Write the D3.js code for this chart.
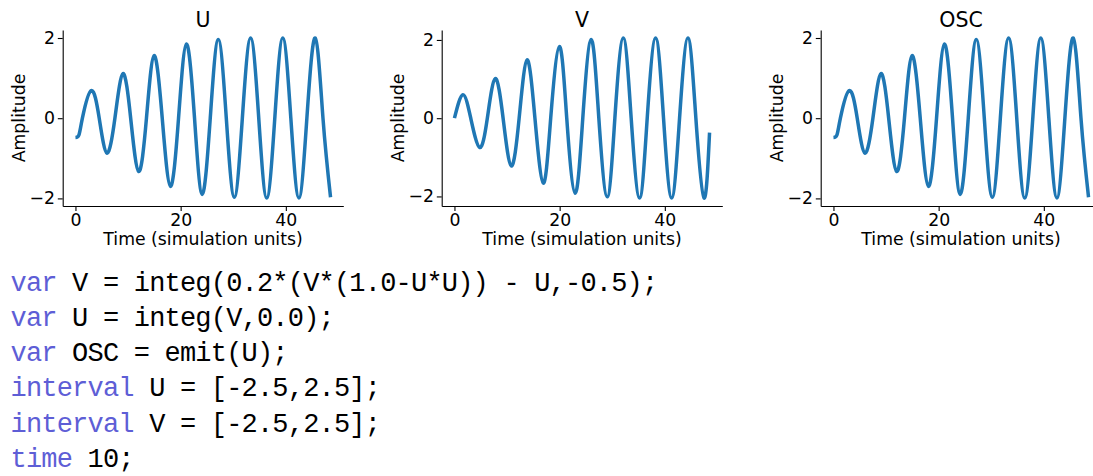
<!DOCTYPE html>
<html>
<head>
<meta charset="utf-8">
<script src="https://cdn.jsdelivr.net/npm/d3@7"></script>
<style>
  body { margin: 0; background: #fff; }
  svg text { font-family: "DejaVu Sans", sans-serif; fill: #000; }
  .code text { font-family: "Liberation Mono", monospace; }
</style>
</head>
<body>
<svg id="chart" width="1093" height="476"></svg>
<script>
// values (peaks, troughs, zero crossings)
var uTime = [0, 0.65, 1.32, 3.0, 4.52, 5.98, 7.5, 9.03, 10.5, 12.02, 13.5, 14.95, 16.5,
  18.06, 19.6, 21.1, 22.64, 24.1, 25.63, 27.15, 28.68, 30.2, 31.73, 33.3, 34.85,
  36.37, 37.9, 39.42, 40.95, 42.48, 44.0, 45.59, 47.06, 48.5];
var uValues = [-0.48, -0.42, 0, 0.69, 0, -0.87, 0, 1.11, 0, -1.33, 0, 1.56, 0,
  -1.70, 0, 1.85, 0, -1.90, 0, 1.96, 0, -1.97, 0, 2.0, 0,
  -1.99, 0, 2.0, 0, -1.99, 0, 2.0, 0, -1.97];

var vTime = [0, 1.6, 3.1, 4.8, 6.25, 7.75, 9.25, 10.8, 12.3, 13.8, 15.3, 16.9, 18.3,
  19.95, 21.35, 22.95, 24.4, 26.0, 27.45, 29.05, 30.5, 32.1, 33.6, 35.2, 36.65,
  38.25, 39.75, 41.3, 42.8, 44.4, 45.9, 47.45, 48.5];
var vValues = [0, 0.60, 0, -0.75, 0, 1.01, 0, -1.22, 0, 1.49, 0, -1.66, 0,
  1.83, 0, -1.92, 0, 2.01, 0, -2.01, 0, 2.05, 0, -2.04, 0,
  2.05, 0, -2.04, 0, 2.05, 0, -2.04, -0.37];

// OSC = emit(U)
var oscTime = uTime;
var oscValues = uValues;

var panelTitles = ["U", "V", "OSC"];
var xTicks = [0, 20, 40];
var yTicks = [-2, 0, 2];
var xLabel = "Time (simulation units)";
var yLabel = "Amplitude";

var codeKeywords = ["var", "var", "var", "interval", "interval", "time"];
var codeRest = [
  " V = integ(0.2*(V*(1.0-U*U)) - U,-0.5);",
  " U = integ(V,0.0);",
  " OSC = emit(U);",
  " U = [-2.5,2.5];",
  " V = [-2.5,2.5];",
  " 10;"
];

var svg = d3.select("#chart");
svg.append("rect").attr("width", 1093).attr("height", 476).attr("fill", "#fff");

var panelW = 280.6, panelH = 176, panelTop = 30;
var panelLefts = [62.7, 441.7, 820.7];
var tickFmt = d3.format("d");

function drawPanel(left, title, times, values) {
  var tExt = d3.extent(times), vExt = d3.extent(values);
  var padT = (tExt[1] - tExt[0]) * 0.05, padV = (vExt[1] - vExt[0]) * 0.05;

  var x = d3.scaleLinear().domain([tExt[0] - padT, tExt[1] + padT]).range([0, panelW]);
  var y = d3.scaleLinear().domain([vExt[0] - padV, vExt[1] + padV]).range([panelH, 0]);

  var g = svg.append("g").attr("transform", "translate(" + left + "," + panelTop + ")");

  var pts = times.map(function(t, i) { return {t: t, v: values[i]}; });
  var line = d3.line()
    .x(function(d) { return x(d.t); })
    .y(function(d) { return y(d.v); })
    .curve(d3.curveNatural);

  g.append("path")
    .attr("d", line(pts))
    .attr("fill", "none")
    .attr("stroke", "#1f77b4")
    .attr("stroke-width", 3.5);

  var xAxis = g.append("g")
    .attr("transform", "translate(0," + panelH + ")")
    .call(d3.axisBottom(x).tickValues(xTicks).tickFormat(tickFmt)
      .tickSize(4.9).tickSizeOuter(0).tickPadding(2.5));
  var yAxis = g.append("g")
    .call(d3.axisLeft(y).tickValues(yTicks).tickFormat(tickFmt)
      .tickSize(4.9).tickSizeOuter(0).tickPadding(2.8));

  [xAxis, yAxis].forEach(function(a) {
    a.attr("color", "#000");
    a.select(".domain").attr("stroke-width", 1.1);
    a.selectAll(".tick line").attr("stroke-width", 1.1);
    a.selectAll(".tick text")
      .attr("font-family", "DejaVu Sans")
      .attr("font-size", 17.3)
      .attr("fill", "#000");
  });

  g.append("text")
    .attr("x", panelW / 2)
    .attr("y", 214.5)
    .attr("text-anchor", "middle")
    .attr("font-size", 17.3)
    .text(xLabel);

  g.append("text")
    .attr("transform", "translate(-38," + (panelH / 2) + ") rotate(-90)")
    .attr("text-anchor", "middle")
    .attr("font-size", 17.3)
    .text(yLabel);

  g.append("text")
    .attr("x", panelW / 2)
    .attr("y", -3.5)
    .attr("text-anchor", "middle")
    .attr("font-size", 20.5)
    .text(title);
}

drawPanel(panelLefts[0], panelTitles[0], uTime, uValues);
drawPanel(panelLefts[1], panelTitles[1], vTime, vValues);
drawPanel(panelLefts[2], panelTitles[2], oscTime, oscValues);

// code listing below the plots
var code = svg.append("g").attr("class", "code");
codeKeywords.forEach(function(kw, i) {
  var t = code.append("text")
    .attr("x", 10.5)
    .attr("y", 290.5 + i * 35.3)
    .attr("font-size", 27)
    .attr("letter-spacing", -0.8)
    .attr("xml:space", "preserve");
  t.append("tspan").attr("fill", "#5e5ed6").text(kw);
  t.append("tspan").attr("fill", "#000").text(codeRest[i]);
});
</script>
</body>
</html>
